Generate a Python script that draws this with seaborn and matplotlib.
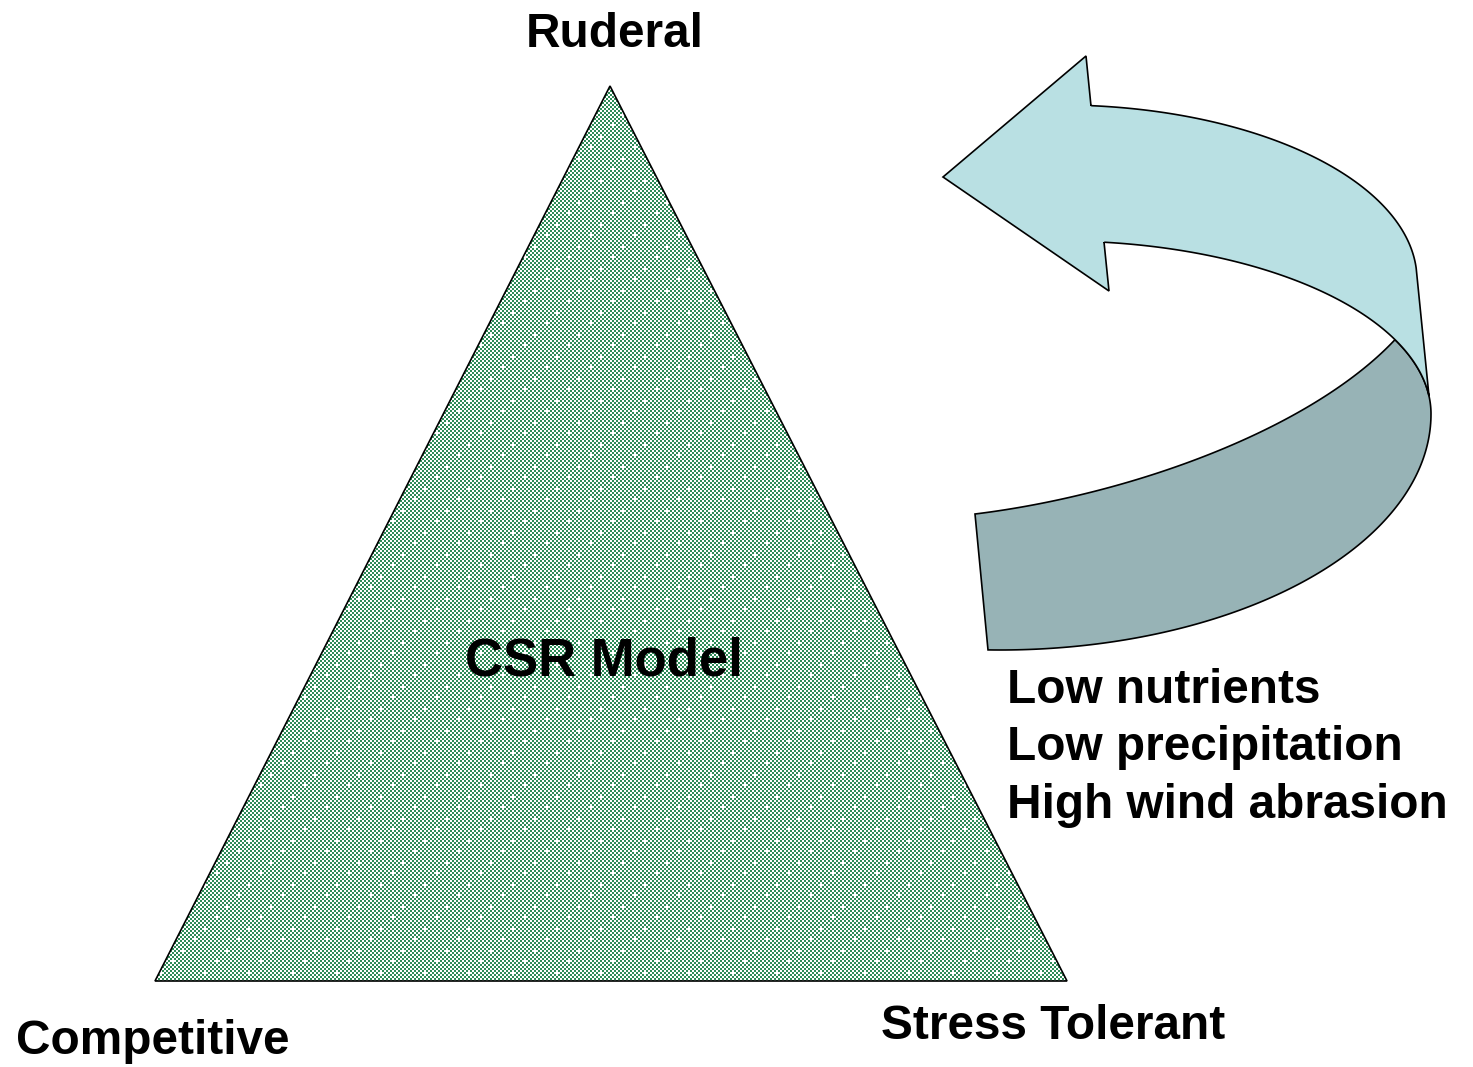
import numpy as np
import matplotlib
matplotlib.use("Agg")
import matplotlib.pyplot as plt
import seaborn as sns
from matplotlib.patches import Polygon

# ---------------- data (diagram geometry in pixel space) ----------------
W, H = 1473, 1067
triangle_x = [610, 155, 1067]
triangle_y = [86, 981, 981]

corner_labels = ["Ruderal", "Competitive", "Stress Tolerant"]
corner_x = [615, 153, 1053]
corner_y = [47, 1054, 1039]

center_label = "CSR Model"
center_xy = (604, 676)

stress_lines = ["Low nutrients", "Low precipitation", "High wind abrasion"]
stress_x = 1007
stress_y = [703, 760, 818]

# arrow geometry
head_pts = [(1104, 242), (1109, 291), (943, 177), (1086, 56), (1091, 106)]
outer_ellipse = dict(cx=1060, cy=280, a=357, b=175)    # top edge of the front band
inner_ellipse = dict(cx=1060, cy=414, a=371, b=173)    # lower edge of the front band
back_ellipse = dict(cx=1000, cy=414, a=431, b=236)     # outer edge of the back band
outer_end_y = 268        # where the curved top edge turns into the straight edge
edge_meet_x = 1429       # straight edge meets the lower ellipse
fold_x = 1395            # where front and back bands meet
dark_start = (975, 514)
dark_ctrl = [(1130, 495), (1310, 430)]   # Bezier control points of the back band's inner edge
dark_end_x = 988

light_color = "#b9e0e3"
dark_color = "#97b3b6"
green = "#2e8b57"


def arc(e, t0, t1, n=120, lower=False):
    t = np.linspace(t0, t1, n)
    s = 1 if lower else -1
    return np.column_stack([e["cx"] + e["a"] * np.cos(t), e["cy"] + s * e["b"] * np.sin(t)])


def t_at_x(e, x):
    return np.arccos(np.clip((x - e["cx"]) / e["a"], -1, 1))


def bezier(p0, p1, p2, p3, n=120):
    t = np.linspace(0, 1, n)[:, None]
    p0, p1, p2, p3 = (np.asarray(p, float) for p in (p0, p1, p2, p3))
    return ((1 - t) ** 3) * p0 + 3 * ((1 - t) ** 2) * t * p1 + 3 * (1 - t) * t ** 2 * p2 + t ** 3 * p3


sns.set_theme(style="white")
plt.rcParams["font.family"] = ["Liberation Sans", "DejaVu Sans"]

fig = plt.figure(figsize=(W / 100, H / 100), dpi=100)
fig.patch.set_facecolor("white")
ax = fig.add_axes([0, 0, 1, 1])
ax.set_facecolor("white")
ax.set_xlim(0, W)
ax.set_ylim(H, 0)
ax.axis("off")

# ---- triangle with checker pattern ----
ax.add_patch(Polygon(list(zip(triangle_x, triangle_y)), closed=True, facecolor="none",
                     edgecolor="black", lw=1.2, zorder=3))
x0, x1, y0, y1 = 154, 1068, 86, 982
nx, ny = (x1 - x0) // 2, (y1 - y0) // 2
jj, ii = np.meshgrid(np.arange(nx), np.arange(ny))
checker = ((ii + jj) % 2 == 0)
spk = ((ii % 11 == 3) & (jj % 11 == 3)) | ((ii % 11 == 8) & (jj % 11 == 9))
checker = checker & ~spk
img = np.ones((ny, nx, 3))
img[checker] = np.array(matplotlib.colors.to_rgb(green))
im = ax.imshow(img, extent=(x0, x1, y1, y0), interpolation="nearest", zorder=2, aspect="auto")
im.set_clip_path(Polygon(list(zip(triangle_x, triangle_y)), closed=True, transform=ax.transData))

# ---- arrow: back (dark) band ----
t_fold = t_at_x(inner_ellipse, fold_x)
fold_pt = arc(inner_ellipse, t_fold, t_fold, n=1)[0]
dark_poly = np.vstack([
    bezier(dark_start, dark_ctrl[0], dark_ctrl[1], fold_pt),
    arc(inner_ellipse, t_fold, 0.0),
    arc(back_ellipse, 0.0, t_at_x(back_ellipse, dark_end_x), lower=True),
])
ax.add_patch(Polygon(dark_poly, closed=True, facecolor=dark_color, edgecolor="black",
                     lw=1.2, joinstyle="miter", zorder=4))

# ---- arrow: front (light) band with head ----
t_start = t_at_x(outer_ellipse, head_pts[-1][0])
t_end = np.arcsin((outer_ellipse["cy"] - outer_end_y) / outer_ellipse["b"])
t_meet = t_at_x(inner_ellipse, edge_meet_x)
t_inner_start = t_at_x(inner_ellipse, head_pts[0][0])
light_poly = np.vstack([
    np.array(head_pts, float),
    arc(outer_ellipse, t_start, t_end),
    arc(inner_ellipse, t_meet, t_inner_start),
])
ax.add_patch(Polygon(light_poly, closed=True, facecolor=light_color, edgecolor="black",
                     lw=1.2, joinstyle="miter", zorder=5))

# ---- text ----
fs = 34.4
for lab, x, y in zip(corner_labels, corner_x, corner_y):
    ax.text(x, y, lab, ha="center", va="baseline", fontsize=fs, fontweight="bold",
            color="black", zorder=6)
ax.text(center_xy[0], center_xy[1], center_label, ha="center", va="baseline",
        fontsize=38, fontweight="bold", color="black", zorder=6)
for lab, y in zip(stress_lines, stress_y):
    ax.text(stress_x, y, lab, ha="left", va="baseline", fontsize=fs, fontweight="bold",
            color="black", zorder=6)

fig.savefig("out.png", dpi=100, facecolor="white")
